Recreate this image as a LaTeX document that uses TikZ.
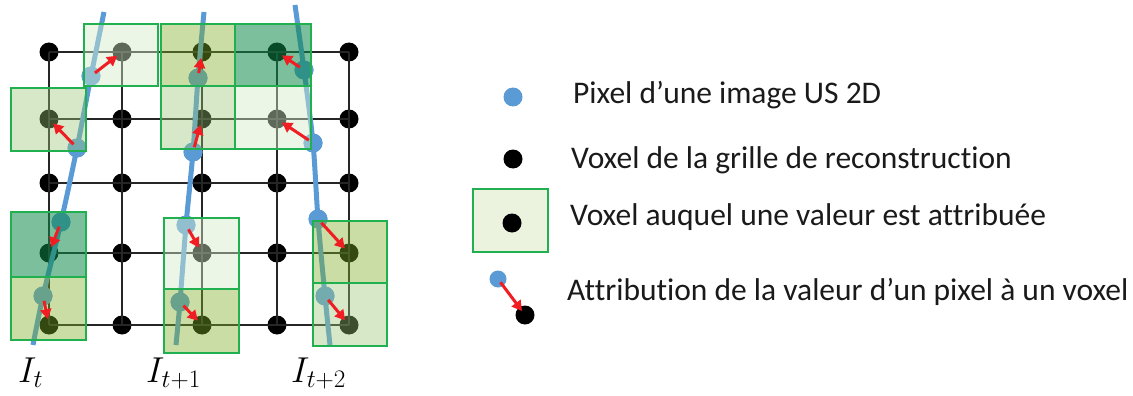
\RequirePackage{fix-cm}
\documentclass[tikz,border=0pt]{standalone}
\usepackage{fontspec}
\setsansfont{Carlito}[Ligatures=NoCommon]
\usetikzlibrary{arrows.meta}
\definecolor{pixblue}{HTML}{5B9BD5}
\definecolor{boxgreen}{HTML}{21B04F}
\definecolor{arrred}{HTML}{F01E23}
\definecolor{cteal}{RGB}{14,138,74}
\definecolor{colive}{RGB}{126,174,40}
\definecolor{clight}{RGB}{152,197,117}
\definecolor{cpale}{RGB}{212,235,201}
\definecolor{legfill}{HTML}{EBF3DF}
\definecolor{txt}{HTML}{1A1A1A}
\tikzset{
  voxel/.style={circle, fill=black, inner sep=0pt, minimum size=19pt},
  pixel/.style={circle, fill=pixblue, inner sep=0pt, minimum size=19pt},
  gridline/.style={line width=1.4pt, draw=black!85},
  plane/.style={line width=5pt, draw=pixblue},
  vbox/.style={draw=boxgreen, line width=2.5pt},
  tealbox/.style={vbox, fill=cteal, fill opacity=0.55},
  olivebox/.style={vbox, fill=colive, fill opacity=0.42},
  lightbox/.style={vbox, fill=clight, fill opacity=0.40},
  palebox/.style={vbox, fill=cpale, fill opacity=0.45},
  assign/.style={draw=arrred, line width=3pt, -{Triangle[length=10pt,width=11pt]}, shorten <=5pt, shorten >=6pt},
  lab/.style={anchor=base west, inner sep=0pt, font=\fontsize{36}{40}\selectfont},
  legtext/.style={anchor=base west, inner sep=0pt, text=txt, font=\sffamily\fontsize{31.5}{36}\selectfont}
}
\begin{document}
\begin{tikzpicture}[x=1pt,y=-1pt]
\useasboundingbox (0,0) rectangle (1133,396);
% voxels
\foreach \c/\x in {1/49,2/122,3/202,4/277,5/349}
  \foreach \r/\y in {1/52,2/119,3/183,4/253,5/325}
    \node[voxel] (v\c\r) at (\x,\y) {};
% grid lines
\foreach \r in {1,...,5} \draw[gridline] (v1\r.center) -- (v5\r.center);
\foreach \c in {1,...,5} \draw[gridline] (v\c1.center) -- (v\c5.center);
% pixels
\node[pixel] (p1) at (91,76) {};
\node[pixel] (p2) at (77,148) {};
\node[pixel] (p3) at (61,222) {};
\node[pixel] (p4) at (43,296) {};
\node[pixel] (p5) at (198,78) {};
\node[pixel] (p6) at (193,152) {};
\node[pixel] (p7) at (186,225) {};
\node[pixel] (p8) at (180,302) {};
\node[pixel] (p9) at (304,70) {};
\node[pixel] (p10) at (313,143) {};
\node[pixel] (p11) at (318,219) {};
\node[pixel] (p12) at (325,296) {};
% image planes
\draw[plane] plot[smooth] coordinates {(104,12) (p1.center) (p2.center) (p3.center) (p4.center) (33,345)};
\draw[plane] plot[smooth] coordinates {(204,12) (p5.center) (p6.center) (p7.center) (p8.center) (176,345)};
\draw[plane] plot[smooth] coordinates {(295,5) (p9.center) (p10.center) (p11.center) (p12.center) (330,345)};
\foreach \i in {1,...,12} \fill[pixblue] (p\i) circle (9.5pt);
% boxes
\draw[palebox]  (84,24) rectangle (158,86);
\draw[lightbox] (11,88) rectangle (86,151);
\draw[olivebox] (161,24) rectangle (235,86);
\draw[tealbox]  (235,24) rectangle (311,86);
\draw[lightbox] (161,86) rectangle (235,149);
\draw[palebox]  (235,86) rectangle (311,149);
\draw[tealbox]  (11,212) rectangle (86,277);
\draw[olivebox] (11,277) rectangle (86,340);
\draw[palebox]  (164,218) rectangle (239,289);
\draw[olivebox] (164,289) rectangle (239,353);
\draw[olivebox] (313,221) rectangle (387,283);
\draw[lightbox] (313,283) rectangle (387,346);
% assignments
\draw[assign] (p1.center) -- (v21.center);
\draw[assign] (p2.center) -- (v12.center);
\draw[assign] (p3.center) -- (v14.center);
\draw[assign] (p4.center) -- (v15.center);
\draw[assign] (p5.center) -- (v31.center);
\draw[assign] (p6.center) -- (v32.center);
\draw[assign] (p7.center) -- (v34.center);
\draw[assign] (p8.center) -- (v35.center);
\draw[assign] (p9.center) -- (v41.center);
\draw[assign] (p10.center) -- (v42.center);
\draw[assign] (p11.center) -- (v54.center);
\draw[assign] (p12.center) -- (v55.center);
% labels
\node[lab] (l1) at (18,382) {$I_t$};
\node[lab] (l2) at (146,382) {$I_{t+1}$};
\node[lab] (l3) at (291,382) {$I_{t+2}$};
% legend
\node[pixel] (lp1) at (513,97) {};
\node[voxel] (lv1) at (513,159) {};
\draw[vbox, fill=legfill] (473,189) rectangle (548,252);
\node[voxel] (lv2) at (512,223) {};
\node[pixel, minimum size=17pt] (lp2) at (498,279) {};
\node[voxel] (lv3) at (525,315) {};
\draw[assign, shorten <=4pt, shorten >=5pt] (lp2.center) -- (lv3.center);
\node[legtext] (t1) at (573,103) {Pixel d’une image US 2D};
\node[legtext] (t2) at (571,168) {Voxel de la grille de reconstruction};
\node[legtext] (t3) at (570,225) {Voxel auquel une valeur est attribuée};
\node[legtext] (t4) at (567,300) {Attribution de la valeur d’un pixel à un voxel};
\end{tikzpicture}
\end{document}
